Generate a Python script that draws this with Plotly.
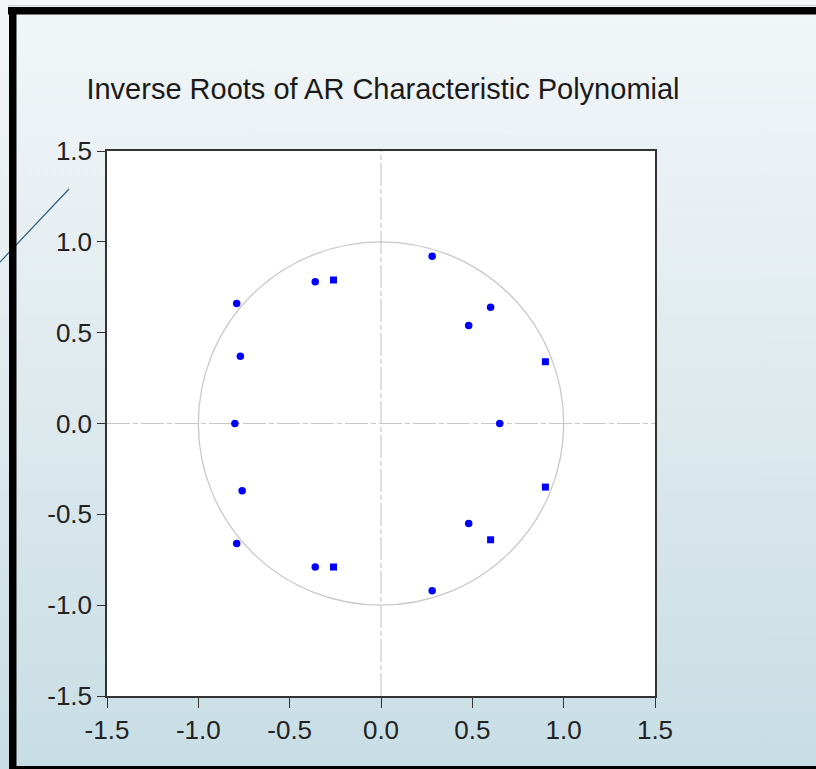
import base64
import plotly.graph_objects as go

# ---------------- data ----------------
title_text = "Inverse Roots of AR Characteristic Polynomial"

# inverse roots drawn as round dots
root_re_round = [0.28, -0.36, -0.79, 0.60, 0.48, -0.77, -0.80, 0.65, -0.76, 0.48, -0.79, -0.36, 0.28]
root_im_round = [0.92, 0.78, 0.66, 0.64, 0.54, 0.37, 0.00, 0.00, -0.37, -0.55, -0.66, -0.79, -0.92]
# inverse roots drawn as small squares
root_re_square = [-0.26, 0.90, 0.90, 0.60, -0.26]
root_im_square = [0.79, 0.34, -0.35, -0.64, -0.79]

tick_vals = [-1.5, -1.0, -0.5, 0.0, 0.5, 1.0, 1.5]
tick_text = ["-1.5", "-1.0", "-0.5", "0.0", "0.5", "1.0", "1.5"]
axis_range = [-1.5, 1.5]

# ---------------- layout geometry ----------------
W, H = 816, 769
L, R, T, B = 107, 655, 151, 696
PW, PH = R - L, B - T


def px(x):
    return (x - L) / PW


def py(y):
    return (B - y) / PH


FONT = "Liberation Sans, Arial, Helvetica, sans-serif"

fig = go.Figure()
fig.add_trace(go.Scatter(
    x=root_re_round, y=root_im_round, mode="markers",
    marker=dict(symbol="circle", size=7.5, color="#0000ff", line=dict(width=0)),
    showlegend=False, hoverinfo="x+y"))
fig.add_trace(go.Scatter(
    x=root_re_square, y=root_im_square, mode="markers",
    marker=dict(symbol="square", size=7, color="#0000ff", line=dict(width=0)),
    showlegend=False, hoverinfo="x+y"))

# gradient background image (svg data uri)
svg = (f'<svg xmlns="http://www.w3.org/2000/svg" width="{W}" height="{H}">'
       '<defs><linearGradient id="g" x1="0" y1="0" x2="0" y2="1">'
       '<stop offset="0" stop-color="#f2f6f8"/>'
       '<stop offset="0.5" stop-color="#dfeaee"/>'
       '<stop offset="1" stop-color="#c7dde4"/>'
       '</linearGradient></defs>'
       f'<rect width="{W}" height="{H}" fill="url(#g)"/></svg>')
src = "data:image/svg+xml;base64," + base64.b64encode(svg.encode()).decode()

images = [dict(source=src, xref="paper", yref="paper", x=px(0), y=py(0),
               sizex=W / PW, sizey=H / PH, xanchor="left", yanchor="top",
               sizing="stretch", layer="below")]

shapes = []
# white plotting area
shapes.append(dict(type="rect", xref="x domain", yref="y domain", x0=0, x1=1, y0=0, y1=1,
                   fillcolor="white", line=dict(width=0), layer="below"))
# unit circle
shapes.append(dict(type="circle", xref="x", yref="y", x0=-1, x1=1, y0=-1, y1=1,
                   line=dict(color="#c8c8c8", width=1.3), layer="below"))
# dash-dot reference axes
shapes.append(dict(type="line", xref="x domain", yref="y", x0=0, x1=1, y0=0, y1=0,
                   line=dict(color="#c8c8c8", width=1.2, dash="23px,3px,5px,3px"), layer="below"))
shapes.append(dict(type="line", xref="x", yref="y domain", x0=0, x1=0, y0=0, y1=1,
                   line=dict(color="#c8c8c8", width=1.2, dash="23px,3px,5px,3px"), layer="below"))

# slide decoration lines
shapes.append(dict(type="line", xref="paper", yref="paper", x0=px(69), y0=py(189), x1=px(0), y1=py(262),
                   line=dict(color="#2e5f7a", width=1.2), layer="above"))
shapes.append(dict(type="line", xref="paper", yref="paper", x0=px(8), y0=py(5.5), x1=px(W), y1=py(5.5),
                   line=dict(color="#c5ced3", width=1), layer="above"))
# black slide frame
blk = dict(type="rect", xref="paper", yref="paper", fillcolor="black", line=dict(width=0), layer="above")
shapes.append(dict(blk, x0=px(8), x1=px(W), y0=py(7), y1=py(14.5)))
shapes.append(dict(blk, x0=px(9), x1=px(16.5), y0=py(7), y1=py(H)))
shapes.append(dict(blk, x0=px(9), x1=px(W), y0=py(766), y1=py(H)))

axis_common = dict(
    range=axis_range, showgrid=False, zeroline=False, showline=True, mirror=True,
    linecolor="#333333", linewidth=1.5, ticks="outside", tickcolor="#333333", tickwidth=1.3,
    tickvals=tick_vals, ticktext=tick_text, fixedrange=True,
    tickfont=dict(family=FONT, size=26, color="#222222"),
)

fig.update_layout(
    width=W, height=H, autosize=False,
    margin=dict(l=L, r=W - R, t=T, b=H - B, pad=0),
    paper_bgcolor="#dfeaee", plot_bgcolor="white",
    title=dict(text=title_text, x=383 / W, xref="container", xanchor="center",
               y=1 - 89 / H, yref="container", yanchor="middle",
               font=dict(family=FONT, size=29, color="#1a1a1a")),
    xaxis=dict(axis_common, ticklen=10),
    yaxis=dict(axis_common, ticklen=8),
    shapes=shapes, images=images, showlegend=False,
)

fig.write_html(
    "out.html",
    config={"displayModeBar": False},
    post_script="var s=document.createElement('style');"
                "s.textContent='html,body{margin:0;padding:0;overflow:hidden;}"
                "::-webkit-scrollbar{display:none;width:0;height:0;}';"
                "document.head.appendChild(s);",
)
